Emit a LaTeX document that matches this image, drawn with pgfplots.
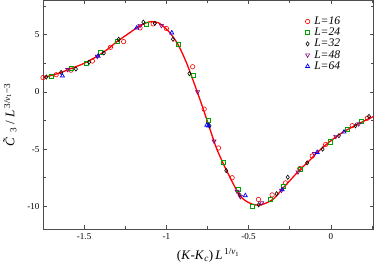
\documentclass[border=0pt]{standalone}
\usepackage{pgfplots}
\pgfplotsset{compat=1.18}
\usepackage{fontspec}
\setmainfont{Liberation Serif}
\definecolor{mygreen}{RGB}{0,160,0}
\definecolor{mypurple}{RGB}{128,0,128}
\begin{document}
\begin{tikzpicture}
\begin{axis}[
  scale only axis,
  width=328pt, height=227pt,
  xmin=-1.75, xmax=0.26, ymin=-12, ymax=8,
  xtick={-1.5,-1,-0.5,0},
  xticklabels={-1.5,-1,-0.5,0},
  minor xtick={-1.75,-1.25,-0.75,-0.25,0.25},
  ytick={-10,-5,0,5},
  minor ytick={-12.5,-7.5,-2.5,2.5,7.5},
  tick align=inside,
  major tick length=4pt, minor tick length=3pt,
  tick style={black!70, line width=0.6pt},
  axis line style={black!70, line width=0.8pt},
  /pgf/number format/assume math mode=true,
  tick label style={font=\fontsize{9}{10}\selectfont},
  xticklabel style={yshift=-1pt},
  xlabel={(\textit{K}-\textit{K}\textsubscript{\textit{c}})\,\textit{L}\textsuperscript{\,1/\textit{ν}\textsubscript{1}}},
  ylabel={\textit{\~{C}}\textsubscript{3} / \textit{L}\textsuperscript{\,3/\textit{ν}\textsubscript{1}−3}},
  label style={font=\fontsize{13}{14}\selectfont},
  xlabel style={yshift=-2pt},
  ylabel style={yshift=4pt},
  legend style={at={(0.79,0.935)}, anchor=north west, draw=none, fill=none,
    font=\fontsize{11.5}{11.5}\selectfont\itshape, row sep=1.2pt, inner sep=1pt,
    nodes={inner sep=0.4pt},
    /tikz/every odd column/.append style={column sep=4pt}},
  legend cell align=left,
]
\addplot[red, line width=1.3pt, smooth, forget plot] coordinates {
(-1.75,1.25) (-1.65,1.65) (-1.566,2.12) (-1.50,2.5) (-1.423,3.1) (-1.36,3.7)
(-1.30,4.4) (-1.24,5.0) (-1.18,5.6) (-1.13,6.0) (-1.09,6.15) (-1.05,6.05)
(-1.02,5.75) (-0.98,5.2) (-0.94,4.4) (-0.91,3.6) (-0.878,2.56) (-0.85,1.5)
(-0.817,0.2) (-0.79,-0.9) (-0.75,-2.6) (-0.72,-3.9) (-0.693,-5.0) (-0.65,-6.4)
(-0.612,-7.5) (-0.58,-8.4) (-0.551,-9.1) (-0.52,-9.5) (-0.48,-9.8) (-0.44,-9.9)
(-0.40,-9.75) (-0.348,-9.35) (-0.287,-8.35) (-0.23,-7.45) (-0.185,-6.75)
(-0.13,-6.0) (-0.083,-5.3) (-0.02,-4.5) (0.039,-3.85) (0.10,-3.3) (0.16,-2.85)
(0.222,-2.4) (0.26,-2.15)};
\addplot[only marks, red, mark=o, mark size=2.2pt, line width=0.6pt] coordinates {
(-1.75,1.25) (-1.67,1.5) (-1.58,1.9) (-1.45,2.7) (-1.34,3.9) (-1.26,4.4)
(-1.16,5.6) (-1.08,5.95) (-1.00,5.55) (-0.84,2.2) (-0.77,-1.5) (-0.683,-4.9)
(-0.60,-7.5) (-0.44,-9.4) (-0.357,-9.0) (-0.276,-7.95) (-0.189,-6.7)
(-0.113,-5.6) (-0.032,-4.6) (0.13,-2.95) (0.222,-2.3)};
\addlegendentry{L=16}
\addplot[only marks, mygreen, mark=square, mark size=2pt, line width=0.6pt] coordinates {
(-1.70,1.35) (-1.58,2.1) (-1.485,2.5) (-1.404,3.5) (-1.30,4.4) (-1.12,5.9)
(-0.927,4.2) (-0.835,1.45) (-0.744,-2.45) (-0.652,-6.15) (-0.561,-8.54)
(-0.479,-9.98) (-0.368,-9.35) (-0.287,-8.24) (-0.185,-6.8) (-0.003,-4.36)
(0.10,-3.3) (0.185,-2.6)};
\addlegendentry{L=24}
\addplot[only marks, black, mark=diamond, mark size=2.1pt, line width=0.6pt] coordinates {
(-1.73,1.3) (-1.64,1.7) (-1.55,2.0) (-1.47,2.6) (-1.38,3.4) (-1.29,4.6)
(-1.14,6.1) (-1.07,6.0) (-0.96,4.6) (-0.86,1.6) (-0.738,-2.96) (-0.636,-6.88)
(-0.555,-9.0) (-0.439,-9.87) (-0.33,-8.9) (-0.262,-7.46) (-0.144,-6.2)
(-0.05,-5.0) (0.049,-3.83) (0.15,-2.96) (0.232,-2.14)};
\addlegendentry{L=32}
\addplot[only marks, mypurple, mark=triangle, mark options={rotate=180}, mark size=2.3pt, line width=0.6pt] coordinates {
(-1.60,1.95) (-1.42,3.1) (-1.16,5.8) (-1.03,5.8) (-0.81,0.0) (-0.71,-4.3)
(-0.57,-8.7) (-0.55,-9.15) (-0.42,-9.7) (-0.30,-8.6) (-0.20,-7.0) (-0.10,-5.4)
(0.03,-3.9) (0.17,-2.8)};
\addlegendentry{L=48}
\addplot[only marks, blue, mark=triangle, mark size=2.3pt, line width=0.7pt] coordinates {
(-1.632,1.4) (-1.415,3.14) (-1.18,5.6) (-0.967,5.17) (-0.744,-2.96) (-0.754,-2.9)
(-0.52,-9.06) (-0.296,-8.54) (-0.083,-5.28) (0.08,-3.5)};
\addlegendentry{L=64}
\end{axis}
\end{tikzpicture}
\end{document}
